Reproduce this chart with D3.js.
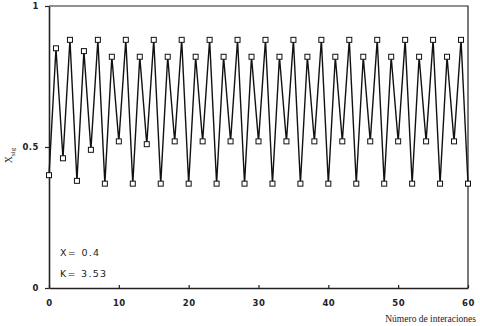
<!DOCTYPE html>
<html>
<head>
<meta charset="utf-8">
<script src="https://cdn.jsdelivr.net/npm/d3@7"></script>
<style>
  body { margin: 0; background: #fff; }
  svg { display: block; }
  .tick text { font-family: "DejaVu Sans", sans-serif; font-size: 8.5px; font-weight: bold; fill: #222; letter-spacing: 0.5px; }
</style>
</head>
<body>
<div id="chart"></div>
<script>
// values (iteration n -> x)
const iterations = d3.range(0, 61);
const xValues = [
  0.40, 0.85, 0.46, 0.88, 0.38, 0.84, 0.49, 0.88, 0.37, 0.82,
  0.52, 0.88, 0.37, 0.82, 0.51, 0.88, 0.37, 0.82, 0.52, 0.88,
  0.37, 0.82, 0.52, 0.88, 0.37, 0.82, 0.52, 0.88, 0.37, 0.82,
  0.52, 0.88, 0.37, 0.82, 0.52, 0.88, 0.37, 0.82, 0.52, 0.88,
  0.37, 0.82, 0.52, 0.88, 0.37, 0.82, 0.52, 0.88, 0.37, 0.82,
  0.52, 0.88, 0.37, 0.82, 0.52, 0.88, 0.37, 0.82, 0.52, 0.88,
  0.37
];
const xTicks = [0, 10, 20, 30, 40, 50, 60];
const yTicks = [0, 0.5, 1];
const yTickLabels = ['0', '0.5', '1'];
const notes = ['X= 0.4', 'K= 3.53'];

const margin = {top: 6, right: 12, bottom: 38, left: 49};
const W = 480, H = 326;
const width = W - margin.left - margin.right;
const height = H - margin.top - margin.bottom;

const svg = d3.select('#chart')
  .append('svg')
    .attr('width', W)
    .attr('height', H)
  .append('g')
    .attr('transform', 'translate(' + margin.left + ',' + margin.top + ')');

const x = d3.scaleLinear().domain([0, 60]).range([0, width]);
const y = d3.scaleLinear().domain([0, 1]).range([height, 0]);

// frame (top and right)
svg.append('path')
  .attr('d', 'M0,' + y(1) + 'H' + x(60) + 'V' + y(0))
  .attr('fill', 'none')
  .attr('stroke', '#222')
  .attr('stroke-width', 1.2);

// X axis
const xAxis = svg.append('g')
  .attr('transform', 'translate(0,' + height + ')')
  .call(d3.axisBottom(x).tickValues(xTicks).tickSizeInner(-3).tickSizeOuter(0).tickPadding(12));
xAxis.select('.domain').attr('stroke', '#222').attr('stroke-width', 1.6);
xAxis.selectAll('.tick line').attr('stroke', '#222').attr('stroke-width', 1.2);

// Y axis
const yAxis = svg.append('g')
  .call(d3.axisLeft(y).tickValues(yTicks).tickFormat((d, i) => yTickLabels[i])
    .tickSizeInner(4).tickSizeOuter(0).tickPadding(6));
yAxis.select('.domain').attr('stroke', '#222').attr('stroke-width', 1.6);
yAxis.selectAll('.tick line').attr('stroke', '#222').attr('stroke-width', 1.2);

// line
const line = d3.line()
  .x((d, i) => x(iterations[i]))
  .y(d => y(d));

svg.append('path')
  .datum(xValues)
  .attr('fill', 'none')
  .attr('stroke', '#111')
  .attr('stroke-width', 1.4)
  .attr('stroke-linejoin', 'miter')
  .attr('d', line);

// open square markers
const s = 5;
svg.selectAll('rect.pt')
  .data(xValues)
  .enter()
  .append('rect')
    .attr('class', 'pt')
    .attr('x', (d, i) => x(iterations[i]) - s / 2)
    .attr('y', d => y(d) - s / 2)
    .attr('width', s)
    .attr('height', s)
    .attr('fill', '#fff')
    .attr('stroke', '#111')
    .attr('stroke-width', 1);

// notes
svg.selectAll('text.note')
  .data(notes)
  .enter()
  .append('text')
    .attr('class', 'note')
    .attr('x', 11)
    .attr('y', (d, i) => 250 + i * 21)
    .attr('font-family', '"DejaVu Sans", sans-serif')
    .attr('font-size', 9.5)
    .attr('letter-spacing', 1.3)
    .attr('fill', '#222')
    .text(d => d);

// axis titles
svg.append('text')
  .attr('x', width + 8)
  .attr('y', height + 34)
  .attr('text-anchor', 'end')
  .attr('font-family', '"Liberation Serif", serif')
  .attr('font-size', 9.5)
  .attr('fill', '#222')
  .text('Número de interaciones');

const yl = svg.append('text')
  .attr('transform', 'translate(' + (-37) + ',' + y(0.47) + ') rotate(-90)')
  .attr('text-anchor', 'middle')
  .attr('font-family', '"Liberation Serif", serif')
  .attr('font-size', 10)
  .attr('fill', '#222');
yl.append('tspan').text('X');
yl.append('tspan').attr('font-size', 7).attr('dy', 3).text('sig');
</script>
</body>
</html>
